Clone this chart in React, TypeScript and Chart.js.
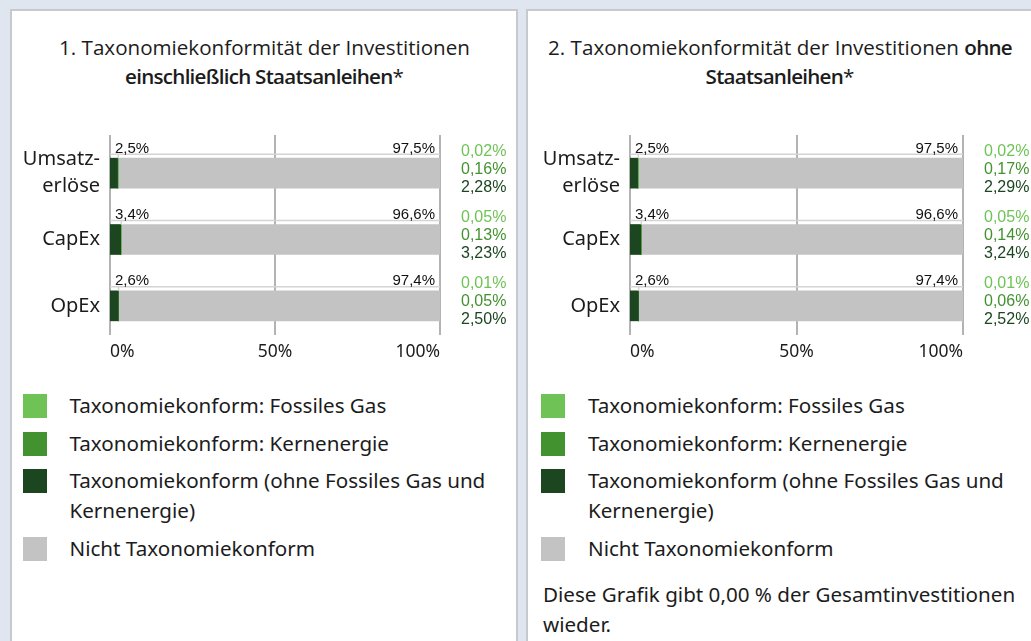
import React, { useEffect, useRef } from "react";
import { Chart, registerables } from "chart.js";

Chart.register(...registerables);

// ---------- data ----------
const categories: (string | string[])[] = [["Umsatz-", "erlöse"], "CapEx", "OpEx"];
const xTickValues = [0, 50, 100];

// Panel 1: including sovereign bonds
const incGas = [0.02, 0.05, 0.01];
const incNuclear = [0.16, 0.13, 0.05];
const incAligned = [2.28, 3.23, 2.5];
const incAlignedTotal = [2.5, 3.4, 2.6];
const incNotAligned = [97.5, 96.6, 97.4];

// Panel 2: excluding sovereign bonds
const excGas = [0.02, 0.05, 0.01];
const excNuclear = [0.17, 0.14, 0.06];
const excAligned = [2.29, 3.24, 2.52];
const excAlignedTotal = [2.5, 3.4, 2.6];
const excNotAligned = [97.5, 96.6, 97.4];

const legendLabels = [
  ["Taxonomiekonform: Fossiles Gas"],
  ["Taxonomiekonform: Kernenergie"],
  ["Taxonomiekonform (ohne Fossiles Gas und", "Kernenergie)"],
  ["Nicht Taxonomiekonform"],
];

// ---------- styles ----------
const COL_GAS = "#6fc356";
const COL_NUC = "#42922f";
const COL_ALI = "#1b4620";
const COL_NOT = "#c3c3c3";
const legendColors = [COL_GAS, COL_NUC, COL_ALI, COL_NOT];
const TEXT = "#1c1c1c";
const SANS = '"Noto Sans", "Open Sans", sans-serif';
const TITLE = '"Open Sans", "Noto Sans", sans-serif';
const ARIAL = '"Liberation Sans", Arial, sans-serif';

const fmt = (v: number, d: number) => v.toFixed(d).replace(".", ",") + "%";

interface ChartProps {
  gas: number[];
  nuclear: number[];
  aligned: number[];
  alignedTotal: number[];
  notAligned: number[];
  axisWidth: number;
  rightPad: number;
  width: number;
  height: number;
}

function BarPanelChart(p: ChartProps) {
  const ref = useRef<HTMLCanvasElement | null>(null);
  useEffect(() => {
    if (!ref.current) return;
    const plugin = {
      id: "taxLabels",
      beforeDatasetsDraw(chart: any) {
        const { ctx, chartArea, scales } = chart;
        ctx.save();
        ctx.strokeStyle = "#b3b3b3";
        ctx.lineWidth = 2;
        xTickValues.forEach((v) => {
          const x = Math.round(scales.x.getPixelForValue(v));
          ctx.beginPath();
          ctx.moveTo(x, chartArea.top - 5);
          ctx.lineTo(x, chartArea.bottom - 4);
          ctx.stroke();
        });
        ctx.restore();
      },
      afterDatasetsDraw(chart: any) {
        const { ctx, scales } = chart;
        const meta = chart.getDatasetMeta(0);
        const x0 = scales.x.getPixelForValue(0);
        const x100 = scales.x.getPixelForValue(100);
        ctx.save();
        meta.data.forEach((bar: any, i: number) => {
          const y = bar.y;
          const top = y - bar.height / 2;
          const ly = top - 4;
          ctx.strokeStyle = "#d4d4d4";
          ctx.lineWidth = 1.5;
          ctx.beginPath();
          ctx.moveTo(x0, ly);
          ctx.lineTo(x100, ly);
          ctx.stroke();
          const xa = scales.x.getPixelForValue(p.alignedTotal[i]);
          ctx.beginPath();
          ctx.moveTo(xa, ly);
          ctx.lineTo(xa, top);
          ctx.stroke();

          ctx.font = `15px ${ARIAL}`;
          ctx.fillStyle = "#111";
          ctx.textBaseline = "alphabetic";
          ctx.textAlign = "left";
          ctx.fillText(fmt(p.alignedTotal[i], 1), x0 + 5, ly - 1.5);
          ctx.textAlign = "right";
          ctx.fillText(fmt(p.notAligned[i], 1), x100 - 5, ly - 1.5);

          ctx.font = `16px ${ARIAL}`;
          ctx.textAlign = "left";
          ctx.textBaseline = "middle";
          const rx = x100 + 21;
          ctx.fillStyle = COL_GAS;
          ctx.fillText(fmt(p.gas[i], 2), rx, y - 22);
          ctx.fillStyle = COL_NUC;
          ctx.fillText(fmt(p.nuclear[i], 2), rx, y - 4);
          ctx.fillStyle = COL_ALI;
          ctx.fillText(fmt(p.aligned[i], 2), rx, y + 14);
        });
        ctx.restore();
      },
    };

    const chart = new Chart(ref.current, {
      type: "bar",
      data: {
        labels: categories as any,
        datasets: [
          { label: "aligned", data: p.aligned, backgroundColor: COL_ALI },
          { label: "nuclear", data: p.nuclear, backgroundColor: COL_NUC },
          { label: "gas", data: p.gas, backgroundColor: COL_GAS },
          { label: "not", data: p.notAligned, backgroundColor: COL_NOT },
        ].map((d) => ({ ...d, borderWidth: 0, barThickness: 30 })),
      },
      options: {
        indexAxis: "y",
        responsive: false,
        animation: false,
        layout: { padding: { top: 10, right: p.rightPad, left: 0, bottom: 0 } },
        plugins: { legend: { display: false }, tooltip: { enabled: false } },
        scales: {
          x: {
            type: "linear",
            stacked: true,
            min: 0,
            max: 100,
            grid: { display: false, drawTicks: false },
            border: { display: false },
            ticks: {
              stepSize: 50,
              align: "inner",
              padding: 3,
              color: TEXT,
              font: { family: SANS, size: 17.5 },
              callback: (v: any) => v + "%",
            },
            afterFit: (s: any) => {
              s.height = 33;
              s.paddingLeft = 0;
              s.paddingRight = 0;
            },
          },
          y: {
            stacked: true,
            grid: { display: false, drawTicks: false },
            border: { display: false },
            ticks: {
              padding: 10,
              color: TEXT,
              font: { family: SANS, size: 20, lineHeight: 1.35 },
            },
            afterFit: (s: any) => {
              s.width = p.axisWidth;
              s.paddingTop = 0;
              s.paddingBottom = 0;
            },
          },
        },
      } as any,
      plugins: [plugin],
    });
    return () => chart.destroy();
  }, []);
  return (
    <canvas
      ref={ref}
      width={p.width}
      height={p.height}
      style={{ display: "block", width: p.width, height: p.height }}
    />
  );
}

function Legend({ left, textLeft }: { left: number; textLeft: number }) {
  return (
    <div style={{ position: "absolute", top: 390, left, fontSize: 20.6, lineHeight: "30px", color: TEXT }}>
      {legendLabels.map((lines, i) => (
        <div key={i} style={{ position: "relative", marginBottom: 7.7, paddingLeft: textLeft - left, whiteSpace: "nowrap" }}>
          <div
            style={{
              position: "absolute",
              left: 0,
              top: 4,
              width: 24,
              height: 24,
              background: legendColors[i],
            }}
          />
          {lines.map((l, j) => (
            <div key={j}>{l}</div>
          ))}
        </div>
      ))}
    </div>
  );
}

export default function App() {
  const panelStyle = (left: number, width: number): React.CSSProperties => ({
    position: "absolute",
    left,
    top: 9,
    width,
    height: 700,
    boxSizing: "border-box",
    border: "2px solid #c6c9ce",
    background: "#ffffff",
  });
  const titleStyle = (left: number, width: number): React.CSSProperties => ({
    position: "absolute",
    left,
    width,
    top: 33,
    textAlign: "center",
    fontFamily: TITLE,
    fontSize: 20.6,
    lineHeight: "29px",
    whiteSpace: "nowrap",
  });
  const bold: React.CSSProperties = { fontWeight: 600, letterSpacing: "-0.75px" };
  return (
    <div
      style={{
        position: "fixed",
        left: 0,
        top: 0,
        width: 1031,
        height: 641,
        overflow: "hidden",
        background: "#dfe6f0",
        fontFamily: SANS,
        color: TEXT,
      }}
    >
      <div style={panelStyle(10, 508)} />
      <div style={panelStyle(526, 508)} />

      <div style={titleStyle(12, 505)}>
        1. Taxonomiekonformität der Investitionen
        <br />
        <span style={bold}>einschließlich Staatsanleihen</span>*
      </div>
      <div style={titleStyle(528, 504)}>
        2. Taxonomiekonformität der Investitionen <span style={bold}>ohne</span>
        <br />
        <span style={bold}>Staatsanleihen</span>*
      </div>

      <div style={{ position: "absolute", left: 12, top: 130 }}>
        <BarPanelChart
          gas={incGas}
          nuclear={incNuclear}
          aligned={incAligned}
          alignedTotal={incAlignedTotal}
          notAligned={incNotAligned}
          axisWidth={98}
          rightPad={77}
          width={505}
          height={242}
        />
      </div>
      <div style={{ position: "absolute", left: 528, top: 130 }}>
        <BarPanelChart
          gas={excGas}
          nuclear={excNuclear}
          aligned={excAligned}
          alignedTotal={excAlignedTotal}
          notAligned={excNotAligned}
          axisWidth={102}
          rightPad={68}
          width={503}
          height={242}
        />
      </div>

      <Legend left={23} textLeft={69.5} />
      <Legend left={541} textLeft={588} />

      <div
        style={{
          position: "absolute",
          left: 543,
          top: 579,
          fontSize: 20.6,
          lineHeight: "30px",
          whiteSpace: "nowrap",
        }}
      >
        Diese Grafik gibt 0,00 % der Gesamtinvestitionen
        <br />
        wieder.
      </div>
    </div>
  );
}
